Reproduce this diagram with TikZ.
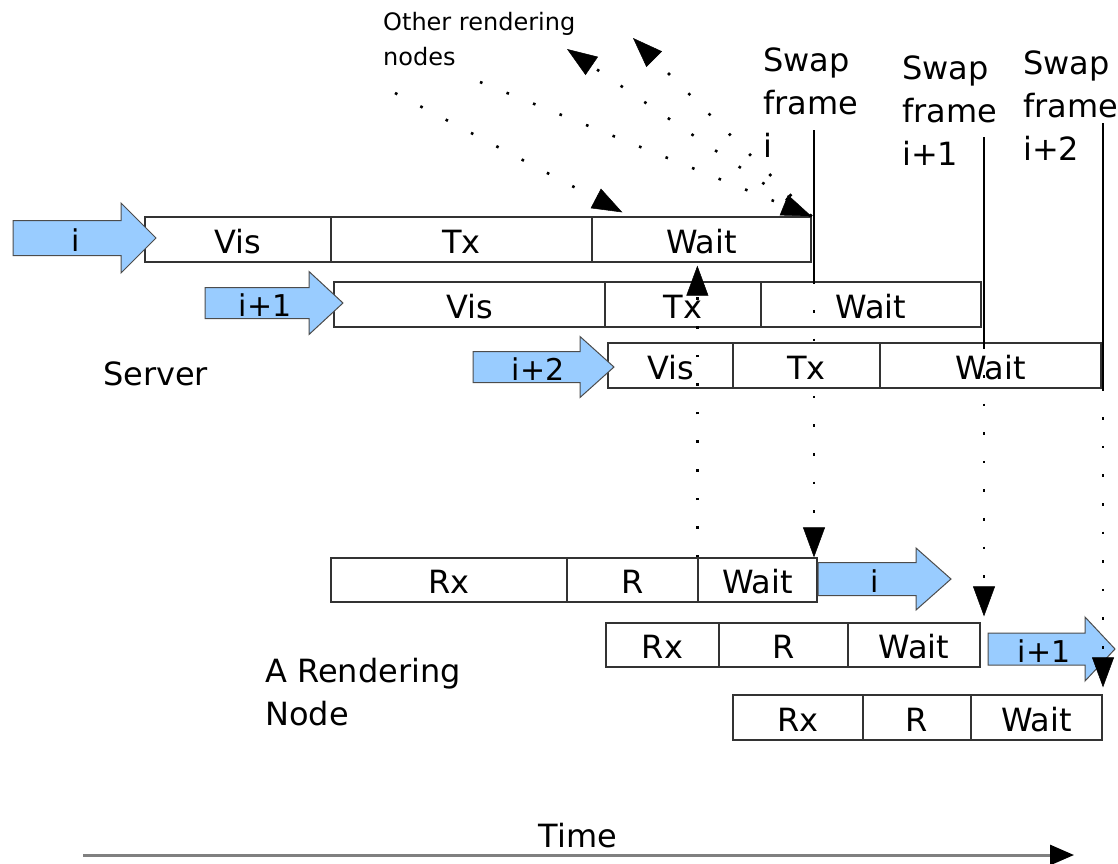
\documentclass[tikz,border=0pt]{standalone}
\usepackage{fontspec}
\setmainfont{DejaVu Sans}
\usetikzlibrary{arrows.meta,calc}
\definecolor{arrowblue}{RGB}{153,204,255}

% Block arrow with a label: name, x start, x head base, x tip, y centre,
% body half height, head half height, label x, label text
\newcommand{\framearrow}[9]{%
  \filldraw[blockarrow] (#2,#5-#6) -- (#3,#5-#6) -- (#3,#5-#7) -- (#4,#5)
    -- (#3,#5+#7) -- (#3,#5+#6) -- (#2,#5+#6) -- cycle;
  \node[arrowtext] (#1) at (#8,#5) {#9};}

\begin{document}
\begin{tikzpicture}[x=1pt,y=-1pt,
  cell/.style={draw=black!80, line width=1.3pt, inner sep=0pt,
    minimum height=45pt, text height=27pt, text depth=0pt,
    font=\fontsize{32}{40}\selectfont},
  blockarrow/.style={fill=arrowblue, draw=black!70, line width=1pt},
  arrowtext/.style={inner sep=0pt, text height=26pt, text depth=0pt,
    font=\fontsize{30}{36}\selectfont},
  plaintext/.style={inner sep=0pt, anchor=base west, align=left,
    font=\fontsize{32}{43}\selectfont},
  dots/.style={line width=2.6pt, dash pattern=on 2.6pt off 26pt},
  dotarrow/.style={dots, -{Triangle[length=30pt,width=22pt,line width=0.5pt]}},
  swapline/.style={line width=2.6pt},
]
\useasboundingbox (0,0) rectangle (1118,863);

% Server: three frames in flight
\node[cell, minimum width=186pt] (sVis1)  at (238,239.5)   {Vis};
\node[cell, minimum width=261pt] (sTx1)   at (461.5,239.5) {Tx};
\node[cell, minimum width=219pt] (sWait1) at (701.5,239.5) {Wait};

\node[cell, minimum width=271pt] (sVis2)  at (469.5,304.5) {Vis};
\node[cell, minimum width=156pt] (sTx2)   at (683,304.5)   {Tx};
\node[cell, minimum width=220pt] (sWait2) at (871,304.5)   {Wait};

\node[cell, minimum width=125pt] (sVis3)  at (670.5,365.5) {Vis};
\node[cell, minimum width=147pt] (sTx3)   at (806.5,365.5) {Tx};
\node[cell, minimum width=221pt] (sWait3) at (990.5,365.5) {Wait};

% Rendering node: three frames in flight
\node[cell, minimum width=236pt, minimum height=44pt] (rRx1)   at (449,580)   {Rx};
\node[cell, minimum width=131pt, minimum height=44pt] (rR1)    at (632.5,580) {R};
\node[cell, minimum width=119pt, minimum height=44pt] (rWait1) at (757.5,580) {Wait};

\node[cell, minimum width=113pt, minimum height=44pt] (rRx2)   at (662.5,645) {Rx};
\node[cell, minimum width=129pt, minimum height=44pt] (rR2)    at (783.5,645) {R};
\node[cell, minimum width=132pt, minimum height=44pt] (rWait2) at (914,645)   {Wait};

\node[cell, minimum width=130pt] (rRx3)   at (798,717.5)    {Rx};
\node[cell, minimum width=108pt] (rR3)    at (917,717.5)    {R};
\node[cell, minimum width=131pt] (rWait3) at (1036.5,717.5) {Wait};

% Frame arrows
\framearrow{arrS1}{13}{121}{156}{238}{17.5}{35}{76}{i}
\framearrow{arrS2}{205}{309}{343}{303}{15.5}{31.5}{265}{i+1}
\framearrow{arrS3}{473}{580}{614}{367}{15.5}{30.5}{538}{i+2}
\framearrow{arrR1}{818}{916}{951}{579}{16.5}{31}{875}{i}
\framearrow{arrR2}{988}{1085}{1115}{649}{16}{32}{1044}{i+1}

% Labels (multi-line labels are placed by their last baseline)
\node[plaintext, font=\fontsize{24}{35}\selectfont] (others) at (383,65) {Other rendering\\nodes};
\node[plaintext] (swap1) at (763,157) {Swap\\frame\\i};
\node[plaintext] (swap2) at (902,165) {Swap\\frame\\i+1};
\node[plaintext] (swap3) at (1023,160) {Swap\\frame\\i+2};
\node[plaintext] (server) at (103,385) {Server};
\node[plaintext] (render) at (265,725) {A Rendering\\Node};
\node[plaintext, anchor=base] (time) at (578,847) {Time};

% Messages to and from the other rendering nodes
\coordinate (o1) at (395,93);
\coordinate (o2) at (480,82);
\coordinate (o3) at (567,49);
\coordinate (o4) at (633,38);
\draw[dotarrow] (o1) -- ($(sWait1.north west)+(31,-4)$);
\draw[dotarrow] (o2) -- (sWait1.north east);
\draw[dotarrow] (sWait1.north east) -- (o3);
\draw[dotarrow] (sWait1.north east) -- (o4);

% Rendering node reports back to the server
\draw[dotarrow, shorten >=3pt] (rWait1.north west) -- (rWait1.north west |- sWait1.south);

% Swap instants
\coordinate (swap1top) at (814,130);
\coordinate (swap2top) at (984,137);
\coordinate (swap3top) at (1103,123);
\draw[swapline] (swap1top) -- (swap1top |- sWait2.north) coordinate (swap1foot);
\draw[swapline] (swap2top) -- ([yshift=-4pt]swap2top |- sWait3.north) coordinate (swap2foot);
\draw[swapline] (swap3top) -- (swap3top |- sWait3.south) coordinate (swap3foot);
\draw[dotarrow] (swap1foot) -- (swap1foot |- rWait1.north);
\draw[dotarrow, shorten >=6pt] (swap2foot) -- (swap2foot |- rWait2.north);
\draw[dotarrow, shorten >=7pt] (swap3foot) -- (swap3foot |- rWait3.north);

% Time axis
\coordinate (t0) at (83,855);
\coordinate (t1) at (1074,855);
\draw[gray, line width=3pt, -{Triangle[length=24pt,width=20pt,color=black]}] (t0) -- (t1);
\end{tikzpicture}
\end{document}
